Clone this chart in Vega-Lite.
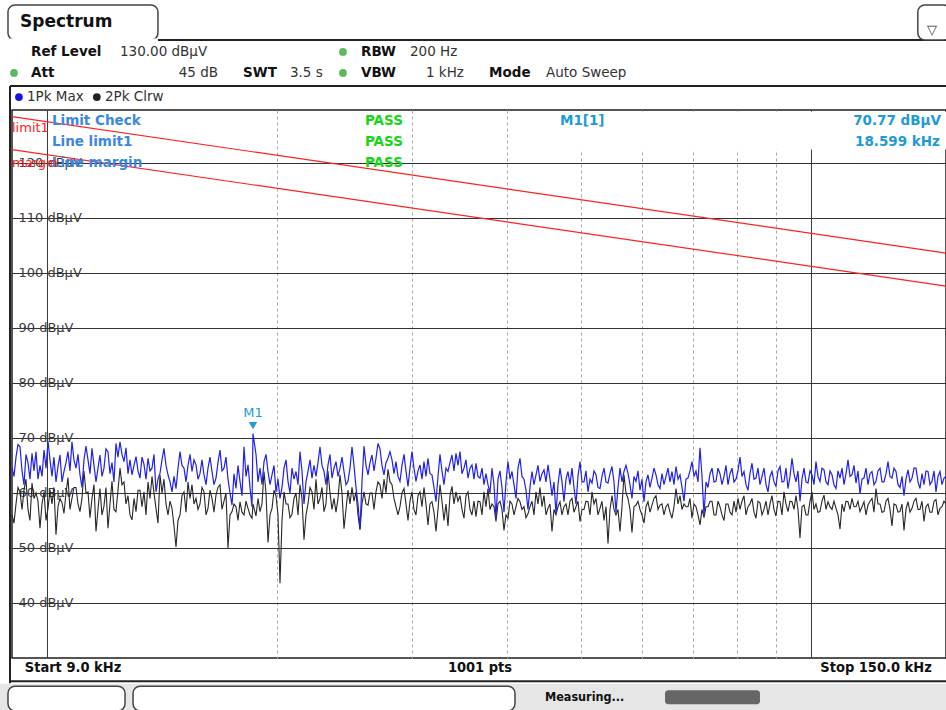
{
"$schema": "https://vega.github.io/schema/vega-lite/v6.json",
"width": 934, "height": 548,
"autosize": "none",
"padding": {"left": 12, "top": 110, "right": 0, "bottom": 52},
"background": "white",
"config": {"font": "DejaVu Sans", "view": {"stroke": "#1e1e1e", "strokeWidth": 1.5}},
"datasets": {
"trace": [
{"f":9.000,"a":64.5,"b":56},{"f":9.054,"a":63,"b":54.5},{"f":9.109,"a":66.5,"b":58},{"f":9.164,"a":68.8,"b":61},{"f":9.220,"a":68.4,"b":60.2},{"f":9.276,"a":64,"b":57},
{"f":9.331,"a":61.5,"b":60.5},{"f":9.387,"a":67,"b":62.5},{"f":9.444,"a":65.5,"b":57},{"f":9.501,"a":62.5,"b":55},{"f":9.559,"a":67.2,"b":61.8},{"f":9.617,"a":64,"b":59},
{"f":9.675,"a":67.5,"b":60},{"f":9.733,"a":62.5,"b":58.5},{"f":9.792,"a":65,"b":53.6},{"f":9.851,"a":63,"b":58},{"f":9.911,"a":67.8,"b":60.2},{"f":9.971,"a":64.5,"b":55},
{"f":10.031,"a":69.4,"b":57.2},{"f":10.092,"a":66,"b":60.5},{"f":10.152,"a":63,"b":58},{"f":10.213,"a":66.5,"b":61},{"f":10.275,"a":62,"b":52.4},{"f":10.337,"a":64.8,"b":57.5},
{"f":10.400,"a":66.9,"b":59},{"f":10.463,"a":62,"b":58.2},{"f":10.526,"a":63.9,"b":56.3},{"f":10.590,"a":65.5,"b":60},{"f":10.653,"a":67.5,"b":62.8},{"f":10.717,"a":64,"b":57},
{"f":10.782,"a":69.3,"b":59},{"f":10.847,"a":66,"b":61},{"f":10.913,"a":64.5,"b":61},{"f":10.979,"a":67,"b":58},{"f":11.045,"a":63.3,"b":56.6},{"f":11.112,"a":61,"b":59},
{"f":11.179,"a":66,"b":64},{"f":11.247,"a":68.5,"b":60},{"f":11.315,"a":66,"b":60.2},{"f":11.383,"a":63.5,"b":55.5},{"f":11.452,"a":68.1,"b":59},{"f":11.521,"a":65,"b":61.5},
{"f":11.591,"a":62,"b":53},{"f":11.661,"a":64.5,"b":57},{"f":11.731,"a":66.9,"b":60.8},{"f":11.802,"a":63,"b":56},{"f":11.873,"a":64.5,"b":57.6},{"f":11.945,"a":68,"b":61},
{"f":12.017,"a":67.5,"b":53.6},{"f":12.090,"a":63.5,"b":58},{"f":12.163,"a":65.5,"b":62.1},{"f":12.236,"a":62,"b":57},{"f":12.310,"a":69,"b":56.6},{"f":12.384,"a":66.5,"b":60.5},
{"f":12.460,"a":69.3,"b":64.5},{"f":12.535,"a":67,"b":61.5},{"f":12.611,"a":65.7,"b":62},{"f":12.687,"a":68.2,"b":58},{"f":12.764,"a":63.5,"b":59.5},{"f":12.841,"a":66,"b":56},
{"f":12.919,"a":63.3,"b":55.1},{"f":12.997,"a":65,"b":59},{"f":13.076,"a":66.6,"b":56.6},{"f":13.155,"a":64,"b":60.5},{"f":13.234,"a":62.7,"b":60.5},{"f":13.314,"a":66.5,"b":57.5},
{"f":13.394,"a":65.2,"b":60.2},{"f":13.475,"a":62.5,"b":56},{"f":13.557,"a":66.3,"b":62},{"f":13.639,"a":64,"b":59},{"f":13.721,"a":64.5,"b":63},{"f":13.804,"a":67,"b":60},
{"f":13.887,"a":60.2,"b":57.2},{"f":13.971,"a":62.5,"b":54.5},{"f":14.056,"a":63.6,"b":63.3},{"f":14.141,"a":66,"b":60},{"f":14.226,"a":68.1,"b":62.5},{"f":14.312,"a":65,"b":58},
{"f":14.399,"a":63.3,"b":56},{"f":14.486,"a":62,"b":58.5},{"f":14.573,"a":60.2,"b":57.2},{"f":14.661,"a":63,"b":54},{"f":14.750,"a":60.8,"b":50.2},{"f":14.839,"a":64.5,"b":55},
{"f":14.929,"a":67.5,"b":56},{"f":15.019,"a":65,"b":59.5},{"f":15.110,"a":64.5,"b":60.2},{"f":15.201,"a":62,"b":56.5},{"f":15.293,"a":65,"b":62},{"f":15.385,"a":67,"b":59},
{"f":15.478,"a":63.9,"b":61.5},{"f":15.571,"a":66,"b":58},{"f":15.666,"a":65.1,"b":59},{"f":15.761,"a":62.5,"b":57},{"f":15.855,"a":63.5,"b":58},{"f":15.951,"a":66,"b":61},
{"f":16.048,"a":63.3,"b":60.2},{"f":16.145,"a":61.5,"b":56},{"f":16.242,"a":64.5,"b":57.2},{"f":16.340,"a":66.5,"b":60.5},{"f":16.439,"a":63.9,"b":59},{"f":16.538,"a":61.5,"b":56.5},
{"f":16.638,"a":62.7,"b":59.6},{"f":16.738,"a":65.5,"b":61},{"f":16.840,"a":67.8,"b":61.5},{"f":16.942,"a":64,"b":57},{"f":17.044,"a":64.5,"b":58.5},{"f":17.147,"a":66.5,"b":60},
{"f":17.251,"a":62.5,"b":50},{"f":17.355,"a":60,"b":56},{"f":17.460,"a":57.8,"b":56.6},{"f":17.565,"a":63.5,"b":58},{"f":17.671,"a":60.8,"b":57.5},{"f":17.778,"a":65,"b":55},
{"f":17.886,"a":62.1,"b":58.4},{"f":17.994,"a":59.5,"b":56.5},{"f":18.103,"a":68.4,"b":56},{"f":18.212,"a":63,"b":58.5},{"f":18.322,"a":65.1,"b":57.2},{"f":18.433,"a":61,"b":56},
{"f":18.544,"a":57.5,"b":55.4},{"f":18.599,"a":70.77,"b":58},
{"f":18.769,"a":67,"b":55.8},{"f":18.882,"a":62,"b":59},{"f":18.996,"a":64.5,"b":56.6},{"f":19.111,"a":61.5,"b":58},{"f":19.227,"a":65.7,"b":63.9},{"f":19.343,"a":67,"b":60},
{"f":19.460,"a":63.9,"b":51},{"f":19.578,"a":61.5,"b":56},{"f":19.696,"a":63.3,"b":57.2},{"f":19.815,"a":65,"b":60.5},{"f":19.934,"a":60.2,"b":59.5},{"f":20.054,"a":62.5,"b":56},
{"f":20.176,"a":59,"b":43.6},{"f":20.298,"a":61,"b":55},{"f":20.421,"a":64.5,"b":60.2},{"f":20.544,"a":66,"b":58},{"f":20.668,"a":62.1,"b":58},{"f":20.793,"a":60,"b":55.5},
{"f":20.918,"a":64.5,"b":56.1},{"f":21.044,"a":62.5,"b":59},{"f":21.172,"a":63.9,"b":60},{"f":21.300,"a":61.5,"b":56},{"f":21.428,"a":67.5,"b":61.5},{"f":21.557,"a":64,"b":59},
{"f":21.688,"a":58,"b":51.5},{"f":21.819,"a":62,"b":56},{"f":21.951,"a":63.9,"b":58},{"f":22.084,"a":66,"b":61},{"f":22.217,"a":62.7,"b":60.2},{"f":22.351,"a":65,"b":57},
{"f":22.486,"a":63,"b":62.5},{"f":22.622,"a":65.5,"b":58},{"f":22.759,"a":68.4,"b":59},{"f":22.896,"a":65,"b":61},{"f":23.035,"a":63.9,"b":56.6},{"f":23.174,"a":61.5,"b":58},
{"f":23.314,"a":65.1,"b":64},{"f":23.455,"a":67,"b":60},{"f":23.597,"a":62.7,"b":57},{"f":23.740,"a":64.5,"b":59},{"f":23.883,"a":65.7,"b":56.5},{"f":24.027,"a":63,"b":59},
{"f":24.172,"a":64.5,"b":63.3},{"f":24.318,"a":66.5,"b":60},{"f":24.465,"a":63.9,"b":53.5},{"f":24.613,"a":61.5,"b":57},{"f":24.762,"a":62.1,"b":60.5},{"f":24.912,"a":64.5,"b":58},
{"f":25.062,"a":68.4,"b":61},{"f":25.213,"a":65,"b":58.5},{"f":25.366,"a":61,"b":60.2},{"f":25.519,"a":58,"b":56},{"f":25.674,"a":53.5,"b":53.3},{"f":25.829,"a":62,"b":58},
{"f":25.985,"a":68.5,"b":60.2},{"f":26.142,"a":65,"b":58},{"f":26.300,"a":63.3,"b":57.8},{"f":26.459,"a":65.5,"b":60},{"f":26.618,"a":66.9,"b":60},{"f":26.779,"a":64,"b":57},
{"f":26.941,"a":66.3,"b":60.2},{"f":27.104,"a":69,"b":62},{"f":27.267,"a":68,"b":61.5},{"f":27.432,"a":65,"b":59},{"f":27.598,"a":63.3,"b":62.5},{"f":27.765,"a":65.5,"b":60},
{"f":27.932,"a":66.3,"b":64.3},{"f":28.101,"a":67.5,"b":62},{"f":28.271,"a":66,"b":61.5},{"f":28.442,"a":63.5,"b":59},{"f":28.614,"a":65.7,"b":57.5},{"f":28.787,"a":63,"b":56},
{"f":28.960,"a":62.1,"b":57.5},{"f":29.135,"a":65,"b":60},{"f":29.311,"a":67,"b":60.8},{"f":29.488,"a":64,"b":58},{"f":29.667,"a":61.2,"b":55},{"f":29.846,"a":64.5,"b":58.5},
{"f":30.026,"a":67.5,"b":60.2},{"f":30.207,"a":64.5,"b":57},{"f":30.390,"a":62.1,"b":56},{"f":30.574,"a":64,"b":59.5},{"f":30.758,"a":65.1,"b":60.2},{"f":30.944,"a":62.5,"b":57.5},
{"f":31.131,"a":65.7,"b":61},{"f":31.319,"a":63,"b":58},{"f":31.508,"a":66.3,"b":54.2},{"f":31.698,"a":63.5,"b":58},{"f":31.890,"a":63.3,"b":58.4},{"f":32.083,"a":61,"b":56.5},
{"f":32.277,"a":58.4,"b":53},{"f":32.472,"a":63,"b":57},{"f":32.668,"a":67,"b":61.5},{"f":32.865,"a":64,"b":58.5},{"f":33.064,"a":61.5,"b":55},{"f":33.264,"a":64.5,"b":58},
{"f":33.465,"a":63.9,"b":54},{"f":33.667,"a":65.5,"b":59.5},{"f":33.871,"a":66.9,"b":61.2},{"f":34.076,"a":64,"b":58},{"f":34.281,"a":67.2,"b":60.2},{"f":34.488,"a":65,"b":58.5},
{"f":34.697,"a":67.5,"b":59.5},{"f":34.907,"a":63.5,"b":57},{"f":35.117,"a":64.5,"b":55.4},{"f":35.329,"a":66,"b":59.5},{"f":35.543,"a":62.7,"b":60.2},{"f":35.758,"a":64.5,"b":57},
{"f":35.974,"a":65.1,"b":56},{"f":36.191,"a":62.5,"b":58.5},{"f":36.410,"a":65.4,"b":55.7},{"f":36.630,"a":63,"b":58.5},{"f":36.851,"a":62.7,"b":58.4},{"f":37.074,"a":64.5,"b":56},
{"f":37.298,"a":61.5,"b":60.2},{"f":37.523,"a":63.5,"b":57.5},{"f":37.750,"a":61.5,"b":60.8},{"f":37.978,"a":60,"b":57},{"f":38.208,"a":64.5,"b":58},{"f":38.439,"a":61.5,"b":57.5},
{"f":38.671,"a":55.5,"b":54.8},{"f":38.905,"a":62.5,"b":58},{"f":39.139,"a":64,"b":58.5},{"f":39.375,"a":61,"b":57},{"f":39.614,"a":56.5,"b":53.2},{"f":39.853,"a":62,"b":56},
{"f":40.094,"a":65.7,"b":55.4},{"f":40.336,"a":62.5,"b":58.5},{"f":40.580,"a":63.9,"b":58},{"f":40.825,"a":61.5,"b":56},{"f":41.072,"a":59,"b":57.5},{"f":41.320,"a":64.5,"b":59},
{"f":41.570,"a":66.3,"b":58.4},{"f":41.821,"a":63,"b":57},{"f":42.074,"a":62.5,"b":57.5},{"f":42.328,"a":60.5,"b":55.5},{"f":42.584,"a":57,"b":56.2},{"f":42.841,"a":61,"b":57.5},
{"f":43.101,"a":63.9,"b":58.5},{"f":43.361,"a":61.5,"b":56},{"f":43.623,"a":63.3,"b":60.2},{"f":43.886,"a":65,"b":58},{"f":44.152,"a":62.1,"b":61},{"f":44.419,"a":63.5,"b":57.5},
{"f":44.687,"a":64.2,"b":59.5},{"f":44.957,"a":62,"b":56},{"f":45.229,"a":65.1,"b":57.2},{"f":45.502,"a":62.5,"b":58},{"f":45.777,"a":59.5,"b":53},{"f":46.053,"a":62,"b":57},
{"f":46.332,"a":56.2,"b":56},{"f":46.612,"a":61.5,"b":57.5},{"f":46.894,"a":64.5,"b":58.4},{"f":47.177,"a":62,"b":56},{"f":47.462,"a":58.4,"b":57.5},{"f":47.749,"a":62.5,"b":58},
{"f":48.037,"a":63.9,"b":56},{"f":48.327,"a":61.5,"b":58.5},{"f":48.620,"a":64.5,"b":59},{"f":48.914,"a":61,"b":56.5},{"f":49.209,"a":58,"b":57.5},{"f":49.506,"a":63,"b":58.5},
{"f":49.806,"a":65.7,"b":54.8},{"f":50.107,"a":62,"b":57},{"f":50.409,"a":62,"b":57},{"f":50.713,"a":64,"b":58.5},{"f":51.020,"a":60.2,"b":58.4},{"f":51.328,"a":62.5,"b":56},
{"f":51.639,"a":61.8,"b":60.2},{"f":51.951,"a":64,"b":58},{"f":52.265,"a":63.3,"b":59},{"f":52.581,"a":61,"b":56},{"f":52.898,"a":60.8,"b":57.2},{"f":53.217,"a":63,"b":58.5},
{"f":53.540,"a":64.5,"b":55},{"f":53.863,"a":62,"b":57.5},{"f":54.189,"a":61.8,"b":50.8},{"f":54.516,"a":63.5,"b":57},{"f":54.846,"a":64.8,"b":59.5},{"f":55.177,"a":62,"b":57},
{"f":55.511,"a":56.5,"b":56},{"f":55.846,"a":61,"b":57},{"f":56.183,"a":64.5,"b":53},{"f":56.522,"a":62,"b":57.5},{"f":56.864,"a":63.9,"b":63.3},{"f":57.207,"a":65,"b":60},
{"f":57.554,"a":63.6,"b":59},{"f":57.902,"a":61.5,"b":57},{"f":58.251,"a":59,"b":52.8},{"f":58.603,"a":63,"b":57.5},{"f":58.957,"a":62.1,"b":57.8},{"f":59.313,"a":64,"b":58.5},
{"f":59.672,"a":60.5,"b":57},{"f":60.032,"a":62.5,"b":56},{"f":60.396,"a":58.4,"b":54.5},{"f":60.761,"a":62,"b":57.5},{"f":61.128,"a":63.3,"b":58.4},{"f":61.497,"a":61,"b":56.5},
{"f":61.869,"a":62.7,"b":57.8},{"f":62.243,"a":64.5,"b":59},{"f":62.619,"a":63.3,"b":59.5},{"f":62.997,"a":61.5,"b":57},{"f":63.378,"a":60.8,"b":57.8},{"f":63.761,"a":63.5,"b":58},
{"f":64.146,"a":61.5,"b":56},{"f":64.533,"a":63,"b":57.5},{"f":64.924,"a":64.5,"b":58},{"f":65.316,"a":62,"b":56.5},{"f":65.711,"a":63.9,"b":55.4},{"f":66.108,"a":61.5,"b":57.5},
{"f":66.507,"a":64.8,"b":60.8},{"f":66.909,"a":62.5,"b":58},{"f":67.313,"a":63.3,"b":59.5},{"f":67.720,"a":61,"b":57},{"f":68.129,"a":58.5,"b":58},{"f":68.540,"a":62.5,"b":57.5},
{"f":68.955,"a":62.7,"b":57.5},{"f":69.371,"a":64,"b":59},{"f":69.791,"a":65.7,"b":55.4},{"f":70.213,"a":63,"b":58},{"f":70.637,"a":64,"b":57.5},{"f":71.064,"a":62,"b":56},
{"f":71.493,"a":68.2,"b":54.2},{"f":71.925,"a":63,"b":57},{"f":72.360,"a":56,"b":55.5},{"f":72.797,"a":62,"b":57.5},{"f":73.237,"a":61,"b":57.5},{"f":73.679,"a":63.5,"b":58.5},
{"f":74.125,"a":64.5,"b":58.5},{"f":74.573,"a":62,"b":56},{"f":75.023,"a":62.1,"b":56},{"f":75.476,"a":64.5,"b":58.5},{"f":75.933,"a":63.5,"b":57.5},{"f":76.392,"a":61.5,"b":56},
{"f":76.853,"a":63,"b":55},{"f":77.317,"a":65,"b":58},{"f":77.785,"a":61.5,"b":58},{"f":78.255,"a":63.5,"b":56.5},{"f":78.728,"a":64.5,"b":56},{"f":79.203,"a":62,"b":58.5},
{"f":79.682,"a":62.5,"b":56.5},{"f":80.163,"a":64,"b":59},{"f":80.648,"a":66.5,"b":57},{"f":81.135,"a":63,"b":58.5},{"f":81.626,"a":63.9,"b":59.5},{"f":82.119,"a":61.5,"b":56},
{"f":82.615,"a":60.5,"b":57.5},{"f":83.114,"a":63.5,"b":58},{"f":83.617,"a":65.4,"b":59},{"f":84.122,"a":62.5,"b":56.5},{"f":84.630,"a":62.7,"b":55.4},{"f":85.141,"a":64.5,"b":58.5},
{"f":85.656,"a":61.5,"b":58.2},{"f":86.173,"a":63,"b":56},{"f":86.694,"a":64.5,"b":57},{"f":87.218,"a":61.5,"b":58.5},{"f":87.745,"a":60.2,"b":56},{"f":88.275,"a":63,"b":58},
{"f":88.809,"a":63.9,"b":59.5},{"f":89.345,"a":62,"b":57},{"f":89.885,"a":61.2,"b":55.8},{"f":90.428,"a":64,"b":58.5},{"f":90.975,"a":64.8,"b":58.4},{"f":91.524,"a":62,"b":56},
{"f":92.077,"a":62.1,"b":60.2},{"f":92.633,"a":64.5,"b":58},{"f":93.194,"a":60.8,"b":56.6},{"f":93.757,"a":63,"b":58.5},{"f":94.323,"a":66.3,"b":58.4},{"f":94.893,"a":63.5,"b":57},
{"f":95.467,"a":62,"b":59.5},{"f":96.044,"a":64,"b":57},{"f":96.624,"a":58.5,"b":51.8},{"f":97.208,"a":62.5,"b":57.5},{"f":97.795,"a":64.5,"b":57.8},{"f":98.386,"a":62,"b":56},
{"f":98.981,"a":61.8,"b":56},{"f":99.579,"a":64,"b":58.5},{"f":100.18,"a":63.3,"b":60.2},{"f":100.78,"a":61.5,"b":57},{"f":101.39,"a":65.7,"b":58},{"f":102.00,"a":63,"b":56.5},
{"f":102.62,"a":62.1,"b":56.6},{"f":103.24,"a":64.5,"b":58.5},{"f":103.87,"a":64.2,"b":59.6},{"f":104.50,"a":62,"b":57},{"f":105.13,"a":61.5,"b":58.4},{"f":105.76,"a":64,"b":57.5},
{"f":106.40,"a":63.3,"b":57},{"f":107.04,"a":61.5,"b":58.5},{"f":107.69,"a":60.8,"b":57.2},{"f":108.34,"a":64,"b":56},{"f":109.00,"a":62.7,"b":53.4},{"f":109.66,"a":64.5,"b":58},
{"f":110.32,"a":61.5,"b":56.6},{"f":110.99,"a":63.5,"b":58.5},{"f":111.66,"a":66,"b":58.4},{"f":112.33,"a":63,"b":57},{"f":113.01,"a":63.3,"b":59},{"f":113.69,"a":65,"b":57.5},
{"f":114.38,"a":61.8,"b":57.5},{"f":115.07,"a":64,"b":58.5},{"f":115.77,"a":59.8,"b":56.6},{"f":116.47,"a":62.5,"b":57.5},{"f":117.17,"a":62.7,"b":58.4},{"f":117.88,"a":64.5,"b":56},
{"f":118.59,"a":61.5,"b":57.8},{"f":119.31,"a":63.5,"b":58.5},{"f":120.03,"a":63.9,"b":59},{"f":120.75,"a":61.5,"b":56.5},{"f":121.48,"a":62.1,"b":60.8},{"f":122.21,"a":64,"b":58},
{"f":122.96,"a":64.5,"b":58},{"f":123.70,"a":62,"b":56.5},{"f":124.45,"a":62,"b":56.6},{"f":125.20,"a":63.5,"b":58.5},{"f":125.96,"a":65.7,"b":59},{"f":126.72,"a":63,"b":57},
{"f":127.48,"a":62.7,"b":54},{"f":128.25,"a":64.5,"b":58},{"f":129.03,"a":63.9,"b":57.8},{"f":129.81,"a":61.5,"b":56.5},{"f":130.59,"a":61,"b":56.6},{"f":131.38,"a":63,"b":58},
{"f":132.17,"a":59.5,"b":53.2},{"f":132.97,"a":62.5,"b":57},{"f":133.78,"a":64.2,"b":58.4},{"f":134.59,"a":62,"b":56.5},{"f":135.40,"a":62.7,"b":57.2},{"f":136.22,"a":64.5,"b":58.5},
{"f":137.04,"a":64.5,"b":59},{"f":137.87,"a":62,"b":57},{"f":138.70,"a":60.8,"b":57},{"f":139.54,"a":63.5,"b":58.5},{"f":140.38,"a":61.5,"b":54.8},{"f":141.23,"a":64,"b":57.5},
{"f":142.08,"a":63.9,"b":58},{"f":142.94,"a":61.5,"b":56.5},{"f":143.81,"a":62.1,"b":56.5},{"f":144.68,"a":64,"b":58.5},{"f":145.55,"a":60.2,"b":58.8},{"f":146.43,"a":63,"b":56},
{"f":147.31,"a":63.9,"b":57.2},{"f":148.20,"a":61.5,"b":57.5},{"f":149.10,"a":62.7,"b":58.5},{"f":150.0,"a":63,"b":58}
],
"limits": [{"f":9,"v":128.4,"s":"limit1"},{"f":150,"v":103.6,"s":"limit1"},{"f":9,"v":122.4,"s":"margin"},{"f":150,"v":97.6,"s":"margin"}],
"infoBox": [{"f":41.57,"f2":152,"v":122.4,"v2":129.3}],
"marker": [{"f":18.599,"v":70.77,"t":"M1"}],
"rules": [
{"f":13.97,"f2":152,"v":142.33,"v2":142.33},
{"f":8.946,"f2":152,"v":133.96,"v2":133.96},
{"f":8.946,"f2":8.946,"v":133.96,"v2":25.42},
{"f":8.946,"f2":152,"v":25.78,"v2":25.78}
],
"tabCover": [{"f":8.935,"f2":13.93,"v":142.33,"v2":142.33}],
"statusBar": [{"f":8.5,"f2":152,"v":25.3,"v2":19.5}],
"frames": [
{"f":8.892,"f2":13.97,"v":142.33,"v2":148.7},
{"f":137.8,"f2":152,"v":142.33,"v2":148.7},
{"f":8.892,"f2":12.65,"v":24.87,"v2":20.4},
{"f":12.96,"f2":40.95,"v":24.87,"v2":20.4}
],
"progress": [{"f":64.35,"f2":85.65,"v":24.15,"v2":21.6}],
"dots": [{"f":9.054,"v":136.33,"k":"ok"},{"f":24.39,"v":140.15,"k":"ok"},{"f":24.39,"v":136.33,"k":"ok"},{"f":9.19,"v":131.96,"k":"max"},{"f":11.62,"v":131.96,"k":"clrw"}],
"tTab": [{"f":9.22,"v":145.6,"t":"Spectrum"}],
"tBold": [{"f":9.53,"v":140.15,"t":"Ref Level"},{"f":25.75,"v":140.15,"t":"RBW"},{"f":9.53,"v":136.33,"t":"Att"},{"f":18.05,"v":136.33,"t":"SWT"},{"f":25.75,"v":136.33,"t":"VBW"},{"f":37.87,"v":136.33,"t":"Mode"}],
"tReg": [{"f":12.46,"v":140.15,"t":"130.00 dBµV"},{"f":29.85,"v":140.15,"t":"200 Hz"},{"f":20.79,"v":136.33,"t":"3.5 s"},{"f":44.96,"v":136.33,"t":"Auto Sweep"},{"f":9.416,"v":131.96,"t":"1Pk Max"},{"f":11.91,"v":131.96,"t":"2Pk Clrw"}],
"tRegR": [{"f":16.74,"v":136.33,"t":"45 dB"},{"f":35.11,"v":136.33,"t":"1 kHz"}],
"tLimit": [{"f":10.15,"v":127.6,"t":"Limit Check"},{"f":10.15,"v":123.78,"t":"Line limit1"},{"f":10.15,"v":119.96,"t":"Line margin"}],
"tPass": [{"f":26.06,"v":127.6,"t":"PASS"},{"f":26.06,"v":123.78,"t":"PASS"},{"f":26.06,"v":119.96,"t":"PASS"}],
"tM1": [{"f":46.89,"v":127.6,"t":"M1[1]"},{"f":113.4,"v":127.6,"t":"70.77 dBµV"},{"f":114.05,"v":123.78,"t":"18.599 kHz"}],
"tRed": [{"f":9.0,"v":126.33,"t":"limit1"},{"f":9.0,"v":119.96,"t":"margin"}],
"tBottom": [{"f":10.815,"v":28.15,"t":"Start 9.0 kHz"},{"f":36.85,"v":28.15,"t":"1001 pts"},{"f":121.5,"v":28.15,"t":"Stop 150.0 kHz"}],
"tStatus": [{"f":44.82,"v":22.87,"t":"Measuring..."}],
"tIcon": [{"f":143.8,"v":144.15,"t":"▽"}]
},
"encoding": {
"x": {"field": "f", "type": "quantitative",
 "scale": {"type": "log", "domain": [9, 150], "nice": false},
 "axis": {"values": [10,20,30,40,50,60,70,80,90,100], "labels": false, "ticks": false, "tickSize": 0, "domain": false, "title": null, "grid": true,
  "gridColor": {"condition": {"test": "datum.value === 10 || datum.value === 100", "value": "#3a3a3a"}, "value": "#a8a8a8"},
  "gridDash": {"condition": {"test": "datum.value === 10 || datum.value === 100", "value": []}, "value": [3, 3]},
  "gridWidth": 1}},
"y": {"field": "v", "type": "quantitative",
 "scale": {"domain": [30, 129.6], "nice": false, "zero": false},
 "axis": {"values": [40,50,60,70,80,90,100,110,120], "labelExpr": "datum.value + ' dBµV'", "labelAlign": "left", "labelBaseline": "middle", "labelPadding": -6, "ticks": false, "tickSize": 0, "domain": false, "title": null, "grid": true, "gridColor": "#333333", "gridWidth": 1, "labelColor": "#3a3a3a", "labelFont": "DejaVu Sans", "labelFontSize": 13}}
},
"layer": [
{"data": {"name": "infoBox"}, "mark": {"type": "rect", "fill": "white", "clip": false}, "encoding": {"x2": {"field": "f2"}, "y2": {"field": "v2"}}},
{"data": {"name": "limits"}, "mark": {"type": "line", "color": "#ff2020", "strokeWidth": 1.2, "clip": false}, "encoding": {"detail": {"field": "s"}}},
{"data": {"name": "trace"}, "transform": [{"fold": ["b"], "as": ["tr", "v"]}], "mark": {"type": "line", "color": "#262626", "strokeWidth": 1.1, "clip": false}, "encoding": {}},
{"data": {"name": "trace"}, "transform": [{"fold": ["a"], "as": ["tr", "v"]}], "mark": {"type": "line", "color": "#2020ee", "strokeWidth": 1.2, "clip": false}, "encoding": {}},
{"data": {"name": "marker"}, "mark": {"type": "point", "shape": "triangle-down", "filled": true, "size": 70, "color": "#1e9ad6", "opacity": 1, "yOffset": -8, "clip": false}},
{"data": {"name": "marker"}, "mark": {"type": "text", "color": "#1e9ad6", "fontSize": 13, "dy": -21, "clip": false}, "encoding": {"text": {"field": "t"}}},
{"data": {"name": "rules"}, "mark": {"type": "rule", "color": "#222222", "strokeWidth": 2, "clip": false}, "encoding": {"x2": {"field": "f2"}, "y2": {"field": "v2"}}},
{"data": {"name": "statusBar"}, "mark": {"type": "rect", "fill": "#e6e6e6", "clip": false}, "encoding": {"x2": {"field": "f2"}, "y2": {"field": "v2"}}},
{"data": {"name": "frames"}, "mark": {"type": "rect", "fill": "white", "stroke": "#444444", "strokeWidth": 1.5, "cornerRadius": 7, "clip": false}, "encoding": {"x2": {"field": "f2"}, "y2": {"field": "v2"}}},
{"data": {"name": "tabCover"}, "mark": {"type": "rule", "color": "white", "strokeWidth": 3, "clip": false}, "encoding": {"x2": {"field": "f2"}, "y2": {"field": "v2"}}},
{"data": {"name": "progress"}, "mark": {"type": "rect", "fill": "#666666", "cornerRadius": 3, "clip": false}, "encoding": {"x2": {"field": "f2"}, "y2": {"field": "v2"}}},
{"data": {"name": "dots"}, "mark": {"type": "point", "shape": "circle", "filled": true, "size": 60, "opacity": 1, "clip": false}, "encoding": {"color": {"field": "k", "type": "nominal", "scale": {"domain": ["ok", "max", "clrw"], "range": ["#5cb85c", "#1515e0", "#222222"]}, "legend": null}}},
{"data": {"name": "tTab"}, "mark": {"type": "text", "align": "left", "baseline": "middle", "fontSize": 17, "fontWeight": "bold", "color": "#111111", "clip": false}, "encoding": {"text": {"field": "t"}}},
{"data": {"name": "tBold"}, "mark": {"type": "text", "align": "left", "baseline": "middle", "fontSize": 13.5, "fontWeight": "bold", "color": "#111111", "clip": false}, "encoding": {"text": {"field": "t"}}},
{"data": {"name": "tReg"}, "mark": {"type": "text", "align": "left", "baseline": "middle", "fontSize": 13.5, "color": "#333333", "clip": false}, "encoding": {"text": {"field": "t"}}},
{"data": {"name": "tRegR"}, "mark": {"type": "text", "align": "right", "baseline": "middle", "fontSize": 13.5, "color": "#333333", "clip": false}, "encoding": {"text": {"field": "t"}}},
{"data": {"name": "tLimit"}, "mark": {"type": "text", "align": "left", "baseline": "middle", "fontSize": 13.5, "fontWeight": "bold", "color": "#3d86e2", "clip": false}, "encoding": {"text": {"field": "t"}}},
{"data": {"name": "tPass"}, "mark": {"type": "text", "align": "left", "baseline": "middle", "fontSize": 13.5, "fontWeight": "bold", "color": "#16d616", "clip": false}, "encoding": {"text": {"field": "t"}}},
{"data": {"name": "tM1"}, "mark": {"type": "text", "align": "left", "baseline": "middle", "fontSize": 13.5, "fontWeight": "bold", "color": "#1e9ad6", "clip": false}, "encoding": {"text": {"field": "t"}}},
{"data": {"name": "tRed"}, "mark": {"type": "text", "align": "left", "baseline": "middle", "fontSize": 13, "color": "#ff2020", "clip": false}, "encoding": {"text": {"field": "t"}}},
{"data": {"name": "tBottom"}, "mark": {"type": "text", "align": "center", "baseline": "middle", "fontSize": 14.5, "fontWeight": "bold", "font": "DejaVu Sans Condensed", "color": "#111111", "clip": false}, "encoding": {"text": {"field": "t"}}},
{"data": {"name": "tStatus"}, "mark": {"type": "text", "align": "left", "baseline": "middle", "fontSize": 12.5, "fontWeight": "bold", "font": "DejaVu Sans Condensed", "color": "#111111", "clip": false}, "encoding": {"text": {"field": "t"}}},
{"data": {"name": "tIcon"}, "mark": {"type": "text", "align": "center", "baseline": "middle", "fontSize": 13, "color": "#333333", "clip": false}, "encoding": {"text": {"field": "t"}}}
]
}
